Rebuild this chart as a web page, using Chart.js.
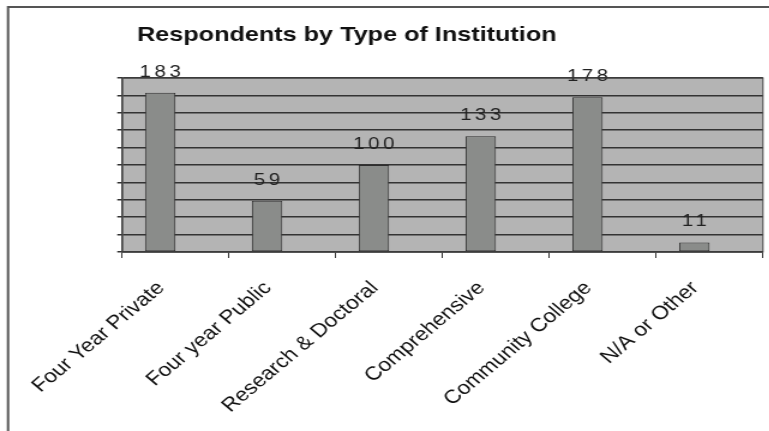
<!DOCTYPE html>
<html>
<head>
<meta charset="utf-8">
<script src="https://cdn.jsdelivr.net/npm/chart.js@4.4.0/dist/chart.umd.min.js"></script>
<style>
  html, body { margin: 0; padding: 0; background: #fff; overflow: hidden; }
  /* the chart is drawn narrow and stretched sideways */
  #wrap { width: 641px; height: 431px; transform: scaleX(1.2); transform-origin: 0 0; }
</style>
</head>
<body>
<div id="wrap"><canvas id="myChart" width="641" height="431"></canvas></div>
<script>
const chartTitle = 'Respondents by Type of Institution';
const categories = ['Four Year Private', 'Four year Public', 'Research & Doctoral', 'Comprehensive', 'Community College', 'N/A or Other'];
const respondents = [183, 59, 100, 133, 178, 11];
const secondSeries = [0, 0, 0, 0, 0, 0];
const yMax = 200;
const yStep = 20;

const FONT = '"Liberation Sans", Arial, sans-serif';

// grey plot panel, outer frame and title
const plotBox = {
    id: 'plotBox',
    beforeDraw(chart) {
        const {ctx, chartArea: a} = chart;
        ctx.save();
        ctx.fillStyle = '#ffffff';
        ctx.fillRect(0, 0, chart.width, chart.height);
        ctx.strokeStyle = '#555555';
        ctx.lineWidth = 2;
        ctx.beginPath();
        ctx.moveTo(6.7, chart.height);
        ctx.lineTo(6.7, 7);
        ctx.lineTo(chart.width, 7);
        ctx.stroke();
        ctx.fillStyle = '#b4b4b4';
        ctx.fillRect(a.left, a.top, a.width, a.height);
        ctx.restore();
    },
    afterDraw(chart) {
        const {ctx, chartArea: a} = chart;
        ctx.save();
        ctx.strokeStyle = '#444444';
        ctx.lineWidth = 1;
        ctx.strokeRect(a.left, a.top, a.width, a.height);
        ctx.fillStyle = '#111111';
        ctx.font = 'bold 21px ' + FONT;
        ctx.textAlign = 'center';
        ctx.textBaseline = 'middle';
        ctx.fillText(chartTitle, 289, 35);
        ctx.restore();
    }
};

// numbers above the bars
const valueLabels = {
    id: 'valueLabels',
    afterDatasetsDraw(chart) {
        const {ctx} = chart;
        const meta = chart.getDatasetMeta(0);
        ctx.save();
        ctx.fillStyle = '#222222';
        ctx.font = '17px ' + FONT;
        ctx.letterSpacing = '3px';
        ctx.textAlign = 'center';
        ctx.textBaseline = 'alphabetic';
        meta.data.forEach((bar, i) => {
            ctx.fillText(String(respondents[i]), bar.x + 1.5, bar.y - 16);
        });
        ctx.restore();
    }
};

function generateChart(target) {
    const chart = new Chart(target, {
        type: 'bar',
        data: {
            labels: categories,
            datasets: [{
                label: 'Respondents',
                data: respondents,
                backgroundColor: '#8a8c8a',
                borderColor: '#2e2e2e',
                borderWidth: 1,
                borderSkipped: false
            }, {
                label: '',
                data: secondSeries,
                backgroundColor: '#c8c8c8',
                borderColor: '#c8c8c8',
                borderWidth: 0
            }]
        },
        options: {
            responsive: false,
            animation: false,
            devicePixelRatio: 1,
            layout: { padding: { top: 78, right: 5.2, left: 0, bottom: 0 } },
            datasets: { bar: { categoryPercentage: 0.57, barPercentage: 1.0 } },
            plugins: {
                legend: { display: false },
                title: { display: false },
                tooltip: { enabled: false }
            },
            scales: {
                x: {
                    offset: true,
                    grid: {
                        drawOnChartArea: false,
                        drawTicks: true,
                        tickLength: 6,
                        color: '#333333',
                        lineWidth: 1
                    },
                    border: { display: true, color: '#333333', width: 1.5 },
                    ticks: {
                        autoSkip: false,
                        minRotation: 45,
                        maxRotation: 45,
                        padding: 19,
                        labelOffset: -12,
                        color: '#111111',
                        font: { family: FONT, size: 19 }
                    },
                    afterFit(scale) {
                        scale.height = 179;
                        scale.paddingLeft = 0;
                        scale.paddingRight = 0;
                    }
                },
                y: {
                    min: 0,
                    max: yMax,
                    ticks: { stepSize: yStep, display: false },
                    grid: {
                        color: '#333333',
                        lineWidth: 1.5,
                        drawTicks: true,
                        tickLength: 4
                    },
                    border: { display: true, color: '#333333', width: 1.5 },
                    afterFit(scale) {
                        scale.width = 101.7;
                    }
                }
            }
        },
        plugins: [plotBox, valueLabels]
    });
    return chart;
}

document.addEventListener('DOMContentLoaded', () => {
    const chartTarget = document.querySelector('#myChart');
    generateChart(chartTarget);
});
</script>
</body>
</html>
